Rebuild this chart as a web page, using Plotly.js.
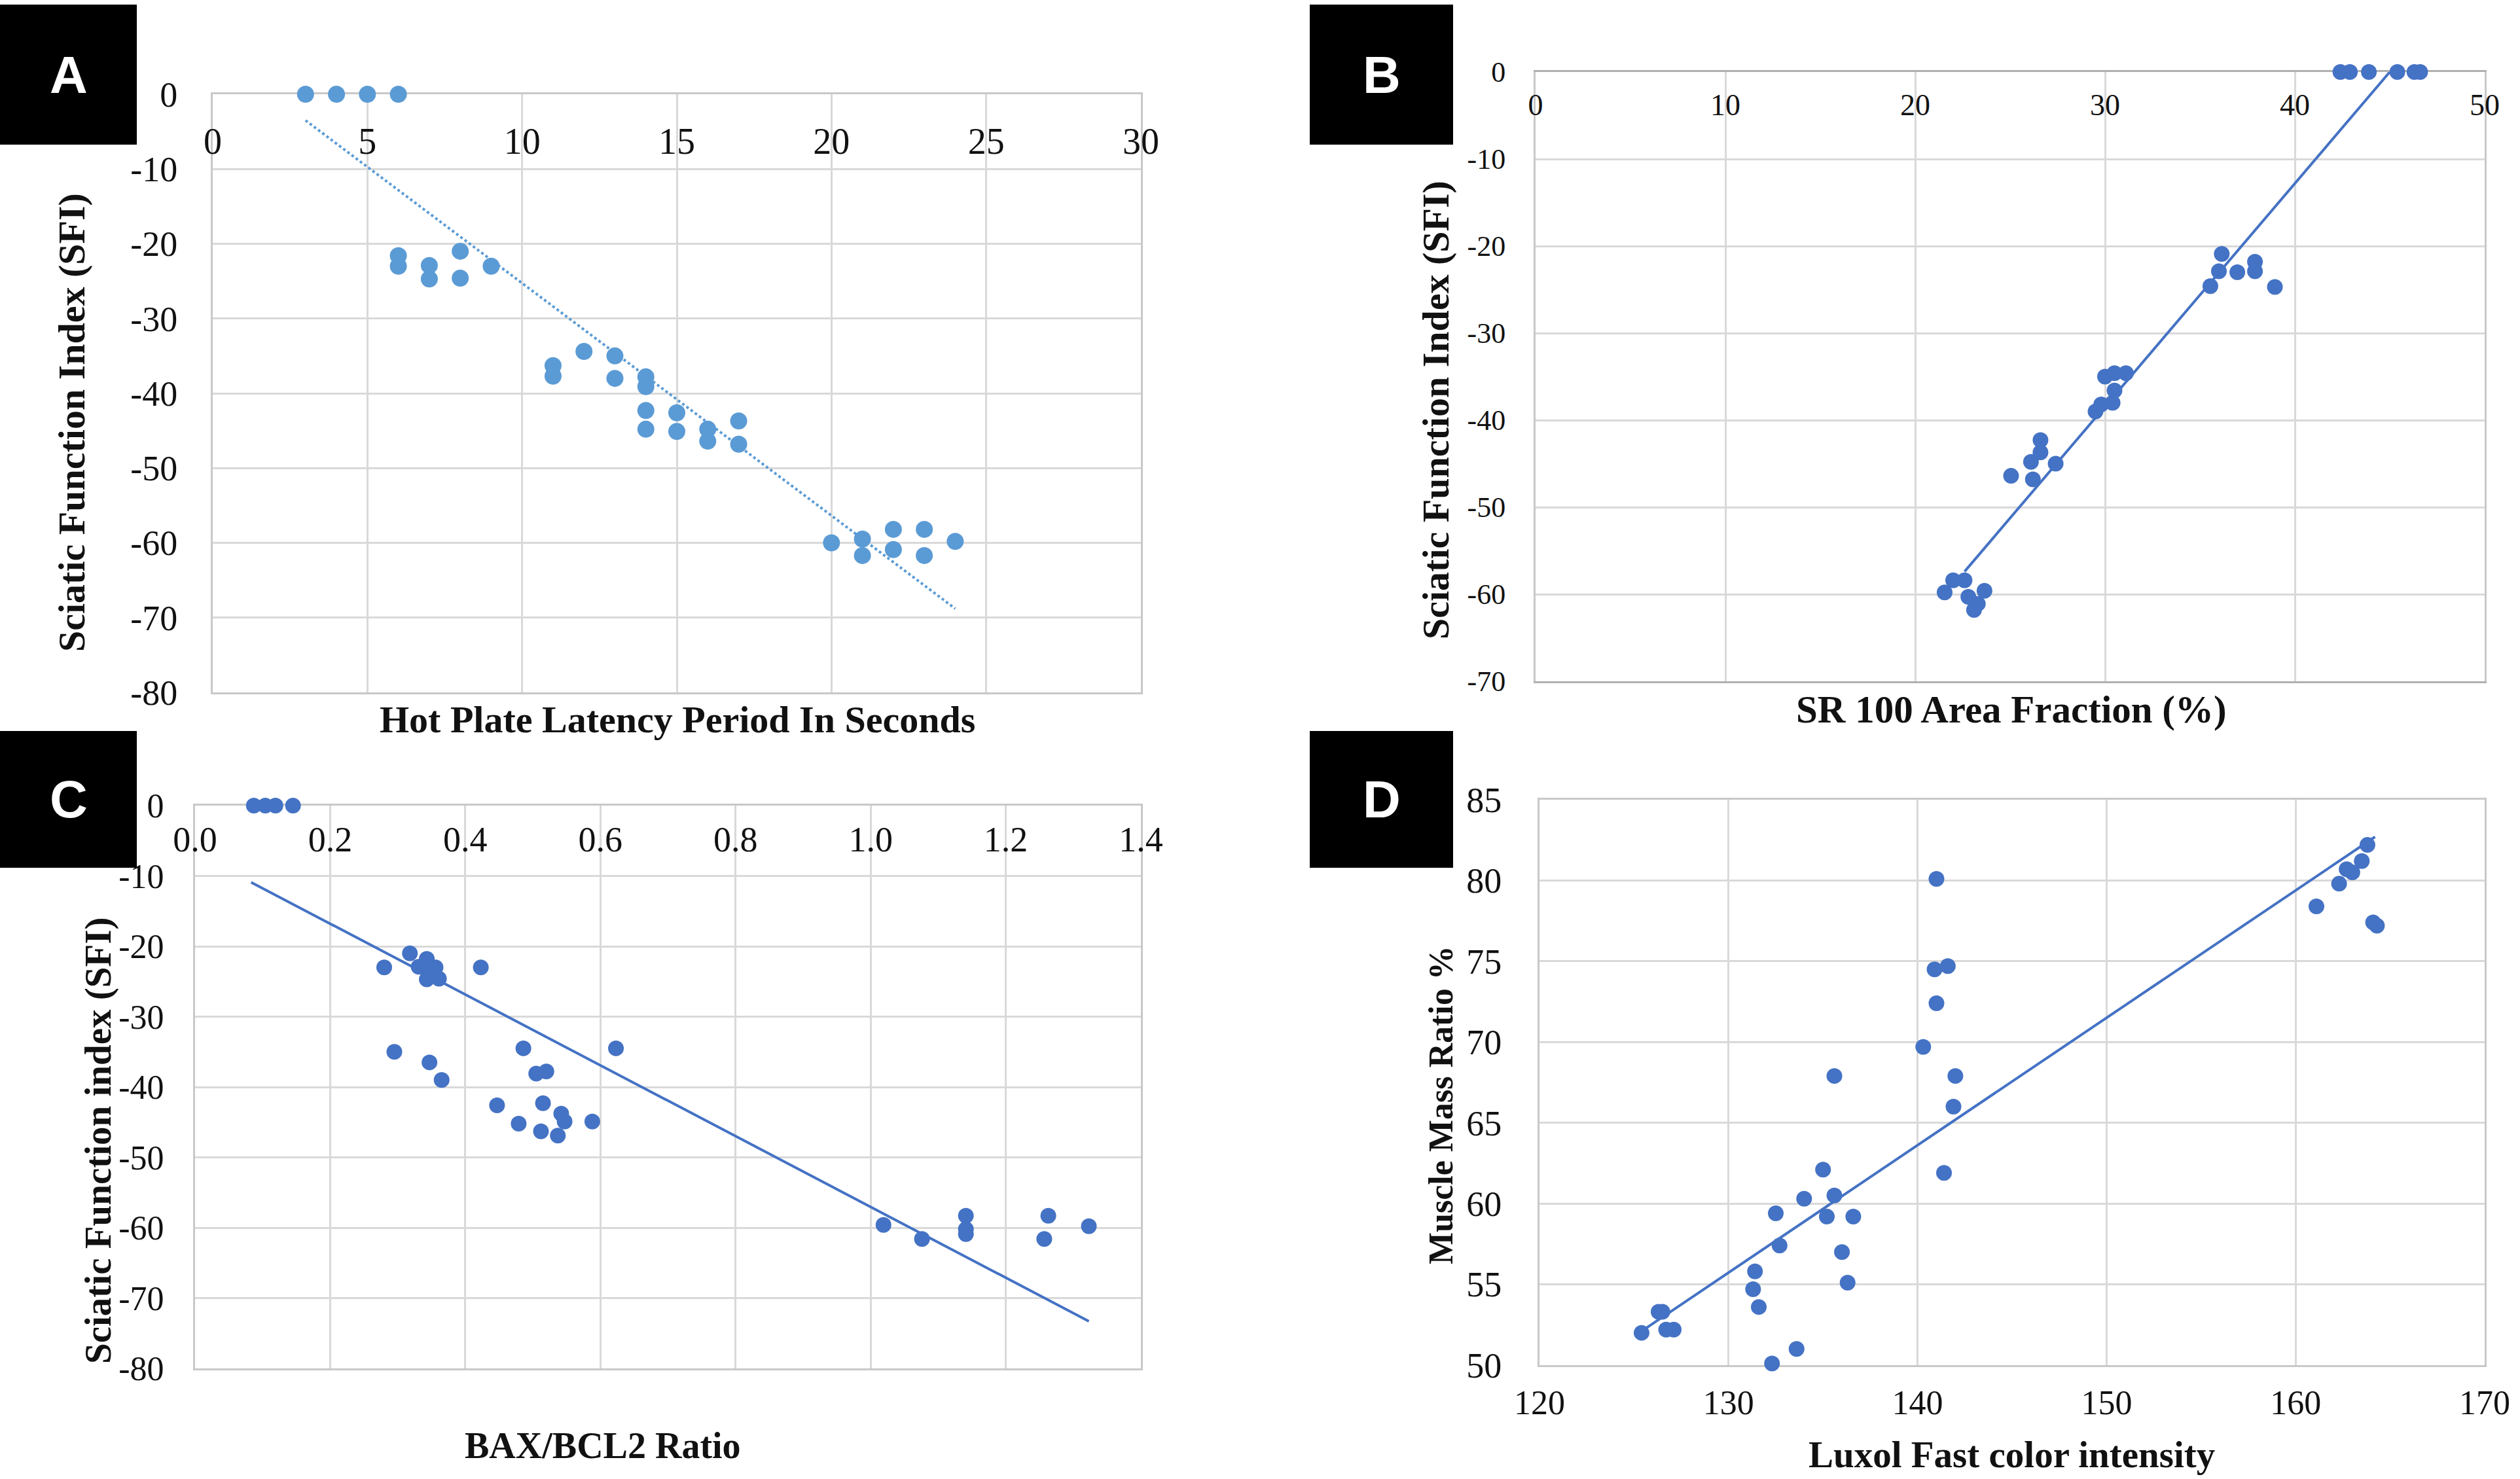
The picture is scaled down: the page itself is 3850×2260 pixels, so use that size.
<!DOCTYPE html>
<html>
<head>
<meta charset="utf-8">
<script src="https://cdn.plot.ly/plotly-3.0.1.min.js"></script>
<style>
  html, body { margin: 0; padding: 0; background: #fff; }
  #myDiv { width: 3850px; height: 2260px; }
</style>
</head>
<body>
<div id="myDiv"></div>
<script>
// panel A: hot plate latency vs SFI
const aX = [3, 4, 5, 6,
  6, 6, 7, 7, 8, 8, 9,
  11, 11, 12, 13, 13, 14, 14, 14, 14, 15, 15, 16, 16, 17, 17,
  20, 21, 21, 22, 22, 23, 23, 24];
const aY = [0, 0, 0, 0,
  -21.6, -23, -22.9, -24.7, -21, -24.6, -23,
  -36.3, -37.7, -34.4, -35, -38, -37.8, -39.1, -42.3, -44.8, -42.6, -45.1, -44.8, -46.4, -43.7, -46.8,
  -60, -59.5, -61.7, -58.2, -60.9, -58.2, -61.7, -59.8];
const aFitX = [3, 24];
const aFitY = [-3.5, -68.8];

// panel B: SR 100 area fraction vs SFI
const bX = [42.4, 42.9, 43.9, 45.4, 46.3, 46.6,
  36.15, 36.0, 36.97, 37.9, 37.9, 35.55, 38.95,
  30.0, 30.5, 31.1, 30.5, 30.4, 29.8, 29.5,
  26.6, 26.6, 26.1, 27.4, 25.05, 26.2,
  22.0, 22.6, 21.55, 23.65, 22.8, 23.3, 23.1];
const bY = [0, 0, 0, 0, 0, 0,
  -20.9, -22.9, -23.0, -21.8, -22.9, -24.6, -24.7,
  -35.0, -34.6, -34.6, -36.6, -38.0, -38.2, -39.0,
  -42.3, -43.7, -44.8, -45.0, -46.4, -46.8,
  -58.4, -58.4, -59.8, -59.6, -60.3, -61.1, -61.8];
const bFitX = [22.6, 45.0];
const bFitY = [-57.4, 0];

// panel C: BAX/BCL2 ratio vs SFI
const cX = [0.087, 0.104, 0.119, 0.145,
  0.28, 0.318, 0.343, 0.331, 0.356, 0.343, 0.361, 0.35, 0.423,
  0.295, 0.347, 0.365, 0.486, 0.623, 0.505, 0.52,
  0.447, 0.515, 0.542, 0.547, 0.479, 0.588, 0.512, 0.537,
  1.019, 1.076, 1.141, 1.141, 1.141, 1.263, 1.257, 1.323];
const cY = [0, 0, 0, 0,
  -23.0, -21.0, -21.8, -22.9, -23.0, -24.7, -24.6, -23.8, -23.0,
  -35.0, -36.5, -39.0, -34.5, -34.5, -38.1, -37.8,
  -42.6, -42.3, -43.8, -44.9, -45.2, -44.9, -46.3, -46.9,
  -59.6, -61.6, -58.3, -60.2, -60.9, -58.3, -61.6, -59.8];
const cFitX = [0.083, 1.323];
const cFitY = [-10.9, -73.3];

// panel D: luxol fast intensity vs muscle mass ratio
const dX = [125.4, 126.3, 126.5, 126.7, 127.1, 131.4, 131.3, 131.6, 132.5, 132.7, 132.3,
  133.6, 134.0, 135.0, 135.2, 135.6, 135.6, 136.6, 136.0, 136.3,
  140.3, 141.0, 140.9, 141.6, 141.0, 141.4, 141.9, 142.0,
  161.1, 162.3, 162.7, 163.0, 163.5, 163.8, 164.1, 164.3];
const dY = [52.0, 53.3, 53.3, 52.2, 52.2, 55.8, 54.7, 53.6, 59.4, 57.4, 50.1,
  51.0, 60.3, 62.1, 59.2, 60.5, 67.9, 59.2, 57.0, 55.1,
  69.7, 80.1, 74.5, 74.7, 72.4, 61.9, 66.0, 67.9,
  78.4, 79.8, 80.7, 80.5, 81.2, 82.2, 77.4, 77.2];
const dFitX = [125.4, 164.2];
const dFitY = [52.1, 82.7];

// SFI tick values (labels use a plain hyphen like the original)
const sfiTicks80 = [0, -10, -20, -30, -40, -50, -60, -70, -80];
const sfiTicks70 = [0, -10, -20, -30, -40, -50, -60, -70];

const panelLetters = ['A', 'B', 'C', 'D'];
const xTitles = ['Hot Plate Latency Period In Seconds', 'SR 100 Area Fraction (%)', 'BAX/BCL2 Ratio', 'Luxol Fast color intensity'];
const yTitles = ['Sciatic Function Index (SFI)', 'Sciatic Function Index (SFI)', 'Sciatic Function index (SFI)', 'Muscle Mass Ratio %'];

const W = 3850, H = 2260;
const fx = v => v / W;
const fy = v => 1 - v / H;
const SERIF = 'Liberation Serif, Times New Roman, serif';
const GRID = '#d9d9d9';
const LIGHT = '#5B9BD5';
const DARK = '#4472C4';

function axis(o) {
  return Object.assign({
    showgrid: true, gridcolor: GRID, gridwidth: 3,
    showline: true, linecolor: '#c8c8c8', linewidth: 3, mirror: true,
    zeroline: false, ticks: '', layer: 'below traces',
    tickfont: { family: SERIF, size: 50, color: '#111' },
    fixedrange: true
  }, o);
}
const tf = s => ({ family: SERIF, size: s, color: '#111' });
const hyph = arr => ({ tickmode: 'array', tickvals: arr, ticktext: arr.map(v => String(v)) });

function pts(x, y, xa, ya, col, sz) {
  return { x: x, y: y, xaxis: xa, yaxis: ya, type: 'scatter', mode: 'markers',
    marker: { color: col, size: sz }, cliponaxis: false, hoverinfo: 'skip' };
}
function fit(x, y, xa, ya, col, dash) {
  return { x: x, y: y, xaxis: xa, yaxis: ya, type: 'scatter', mode: 'lines',
    line: { color: col, width: 4, dash: dash }, hoverinfo: 'skip' };
}

var data = [
  fit(aFitX, aFitY, 'x', 'y', LIGHT, 'dot'),
  pts(aX, aY, 'x', 'y', LIGHT, 26),
  fit(bFitX, bFitY, 'x2', 'y2', DARK, 'solid'),
  pts(bX, bY, 'x2', 'y2', DARK, 24),
  fit(cFitX, cFitY, 'x3', 'y3', DARK, 'solid'),
  pts(cX, cY, 'x3', 'y3', DARK, 24),
  fit(dFitX, dFitY, 'x4', 'y4', DARK, 'solid'),
  pts(dX, dY, 'x4', 'y4', DARK, 24)
];

var layout = {
  width: W, height: H,
  margin: { l: 0, r: 0, t: 0, b: 0 },
  paper_bgcolor: '#fff', plot_bgcolor: '#fff',
  showlegend: false,
  xaxis: axis({ domain: [fx(325), fx(1743)], anchor: 'y', range: [0, 30], dtick: 5,
    side: 'top', ticklabelposition: 'inside', ticklabeloverflow: 'allow', ticklabelstandoff: 60,
    tickfont: tf(56) }),
  yaxis: axis(Object.assign({ domain: [fy(1058), fy(144)], anchor: 'x', range: [-80, 0],
    ticklabelstandoff: 40, tickfont: tf(54) }, hyph(sfiTicks80))),
  xaxis2: axis({ domain: [fx(2346), fx(3796)], anchor: 'y2', range: [0, 50], dtick: 10,
    side: 'top', ticklabelposition: 'inside', ticklabeloverflow: 'allow', ticklabelstandoff: 40,
    linecolor: '#b0b0b0', tickfont: tf(46) }),
  yaxis2: axis(Object.assign({ domain: [fy(1041), fy(110)], anchor: 'x2', range: [-70, 0],
    ticklabelstandoff: 34, tickfont: tf(44) }, hyph(sfiTicks70))),
  xaxis3: axis({ domain: [fx(298), fx(1743)], anchor: 'y3', range: [0, 1.4], dtick: 0.2, tickformat: '.1f',
    side: 'top', ticklabelposition: 'inside', ticklabeloverflow: 'allow', ticklabelstandoff: 40,
    tickfont: tf(54) }),
  yaxis3: axis(Object.assign({ domain: [fy(2091), fy(1231)], anchor: 'x3', range: [-80, 0],
    ticklabelstandoff: 34, tickfont: tf(52) }, hyph(sfiTicks80))),
  xaxis4: axis({ domain: [fx(2352), fx(3796)], anchor: 'y4', range: [120, 170], dtick: 10,
    ticklabelstandoff: 10, tickfont: tf(52) }),
  yaxis4: axis({ domain: [fy(2086), fy(1222)], anchor: 'x4', range: [50, 85], dtick: 5,
    ticklabelstandoff: 44, tickfont: tf(54) }),
  shapes: [],
  annotations: []
};

// black letter boxes
const boxX = [[0, 209], [2001, 2220], [0, 209], [2001, 2220]];
const boxY = [[7, 221], [7, 221], [1117, 1326], [1117, 1326]];
panelLetters.forEach((L, i) => {
  layout.shapes.push({ type: 'rect', xref: 'paper', yref: 'paper',
    x0: fx(boxX[i][0]), x1: fx(boxX[i][1]), y0: fy(boxY[i][1]), y1: fy(boxY[i][0]),
    fillcolor: '#000', line: { width: 0 }, layer: 'above' });
  layout.annotations.push({ xref: 'paper', yref: 'paper', showarrow: false,
    x: fx((boxX[i][0] + boxX[i][1]) / 2), y: fy((boxY[i][0] + boxY[i][1]) / 2),
    xanchor: 'center', yanchor: 'middle', text: '<b>' + L + '</b>',
    font: { family: 'Liberation Sans Narrow, Liberation Sans, Arial, sans-serif', size: 80, color: '#fff' } });
});

// axis titles
const xtPos = [[1035, 1099, 58], [3073, 1084, 59], [921, 2209, 56], [3073, 2222, 57]];
const ytPos = [[110, 646, 58], [2193, 627, 58], [150, 1743, 57], [2201, 1689, 52]];
xTitles.forEach((t, i) => {
  layout.annotations.push({ xref: 'paper', yref: 'paper', showarrow: false,
    x: fx(xtPos[i][0]), y: fy(xtPos[i][1]), xanchor: 'center', yanchor: 'middle',
    text: '<b>' + t + '</b>', font: { family: SERIF, size: xtPos[i][2], color: '#111' } });
});
yTitles.forEach((t, i) => {
  layout.annotations.push({ xref: 'paper', yref: 'paper', showarrow: false, textangle: -90,
    x: fx(ytPos[i][0]), y: fy(ytPos[i][1]), xanchor: 'center', yanchor: 'middle',
    text: '<b>' + t + '</b>', font: { family: SERIF, size: ytPos[i][2], color: '#111' } });
});

Plotly.newPlot('myDiv', data, layout, { staticPlot: true });
</script>
</body>
</html>
